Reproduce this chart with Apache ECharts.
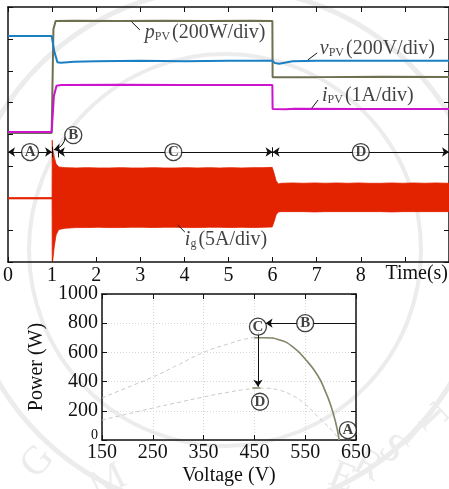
<!DOCTYPE html>
<html>
<head>
<meta charset="utf-8">
<script src="https://cdn.jsdelivr.net/npm/echarts@6/dist/echarts.min.js"></script>
<style>
  html, body { margin: 0; padding: 0; background: #fff; }
  #chart { width: 449px; height: 489px; }
</style>
</head>
<body>
<div id="chart"></div>
<script>
// ---- Time-domain traces (vertical unit: scope divisions) ----
const timeTicks = [0, 1, 2, 3, 4, 5, 6, 7, 8];

const pPvTime  = [0, 0.99, 1.03, 1.08, 1.5, 2.5, 3.5, 4.5, 5.5, 5.995, 6.0, 7.0, 8.5, 10];
const pPvDiv   = [4.05, 4.05, 7.3, 7.56, 7.57, 7.56, 7.57, 7.56, 7.57, 7.56, 5.80, 5.80, 5.81, 5.80];

const vPvTime  = [0, 0.99, 1.05, 1.12, 1.2, 1.5, 2, 3, 4, 5, 6, 6.05, 6.15, 6.3, 6.45, 7, 8.5, 10];
const vPvDiv   = [7.09, 7.09, 6.6, 6.27, 6.25, 6.28, 6.30, 6.31, 6.30, 6.31, 6.31, 6.24, 6.22, 6.26, 6.30, 6.31, 6.31, 6.31];

const iPvTime  = [0, 0.99, 1.04, 1.1, 1.2, 2.5, 4, 5.995, 6.0, 6.3, 6.5, 8, 10];
const iPvDiv   = [4.08, 4.08, 5.2, 5.53, 5.55, 5.56, 5.55, 5.55, 4.80, 4.79, 4.81, 4.80, 4.80];

// grid current envelope (upper / lower edge of the 50 Hz band)
const igTime  = [0, 0.999, 1.003, 1.01, 1.02, 1.05, 1.09, 1.15, 1.3, 1.55, 1.8, 2.05, 2.3, 2.55, 2.8, 3.05, 3.3, 3.55, 3.8, 4.05, 4.3, 4.55, 4.8, 5.05, 5.3, 5.55, 5.8, 5.99, 6.03, 6.08, 6.13, 6.2, 6.45, 6.7, 6.95, 7.2, 7.45, 7.7, 7.95, 8.2, 8.45, 8.7, 8.95, 9.2, 9.45, 9.7, 10];
const igUpper = [2.02, 2.02, 3.82, 3.65, 3.5, 3.28, 3.08, 2.98, 2.96, 2.95, 2.96, 2.95, 2.95, 2.96, 2.95, 2.95, 2.96, 2.95, 2.95, 2.96, 2.95, 2.96, 2.95, 2.96, 2.95, 2.96, 2.96, 2.97, 2.8, 2.55, 2.45, 2.47, 2.48, 2.47, 2.48, 2.47, 2.48, 2.47, 2.48, 2.47, 2.47, 2.48, 2.47, 2.48, 2.47, 2.48, 2.47];
const igLower = [1.98, 1.98, 0.05, 0.02, 0.12, 0.5, 0.85, 1.02, 1.06, 1.08, 1.08, 1.09, 1.08, 1.08, 1.09, 1.09, 1.08, 1.09, 1.09, 1.08, 1.08, 1.09, 1.09, 1.08, 1.09, 1.08, 1.09, 1.10, 1.25, 1.48, 1.57, 1.58, 1.58, 1.58, 1.57, 1.58, 1.58, 1.58, 1.58, 1.58, 1.58, 1.57, 1.58, 1.58, 1.58, 1.58, 1.58];

// ---- P-V characteristics ----
const pvVoltage = [150, 200, 250, 300, 350, 400, 430, 450, 470, 500, 525, 550, 575, 590, 600, 610, 617];
const powerHigh = [288, 360, 431, 515, 600, 660, 690, 700, 700, 685, 640, 555, 440, 330, 240, 120, 0];
const powerLow  = [137, 178, 219, 257, 295, 328, 345, 352, 355, 340, 305, 245, 160, 110, 75, 35, 0];
const mppVoltage = 447;           // operating point on the strong-light curve
const holdVoltage = [446, 462];   // short operating segment after the drop
const holdPower = [356, 356];

const SERIF = "'Liberation Serif', 'DejaVu Serif', serif";
const BLACK = '#111';
const FAINT = '#ececec';

function pairs(xs, ys) { return xs.map((x, i) => [x, ys[i]]); }

const highDashed = pairs(pvVoltage, powerHigh);
const highSolid = pairs(pvVoltage, powerHigh).filter(p => p[0] >= mppVoltage);
const lowDashed = pairs(pvVoltage, powerLow);

const circleSeries = (gi, data) => ({
  type: 'scatter',
  xAxisIndex: gi === 0 ? 0 : 2,
  yAxisIndex: gi === 0 ? 0 : 2,
  symbol: 'circle',
  symbolSize: 17,
  itemStyle: { color: '#fff', borderColor: BLACK, borderWidth: 1.3 },
  label: {
    show: true, position: 'inside', color: BLACK,
    fontFamily: SERIF, fontWeight: 'bold', fontSize: 15,
    formatter: p => p.data.name
  },
  z: 20,
  data: data.map(d => ({ name: d[0], value: d[1] }))
});

const arrowLines = (gi, coordsList, symbols, extra) => Object.assign({
  type: 'lines',
  coordinateSystem: 'cartesian2d',
  xAxisIndex: gi === 0 ? 0 : 2,
  yAxisIndex: gi === 0 ? 0 : 2,
  symbol: symbols,
  symbolSize: 7,
  lineStyle: { color: BLACK, width: 1, opacity: 1 },
  z: 15,
  silent: true,
  data: coordsList.map(c => ({ coords: c }))
}, extra || {});

const traceLabel = (main, sub, rest, pos) => ({
  type: 'scatter', xAxisIndex: 0, yAxisIndex: 0,
  symbolSize: 0, silent: true, z: 18,
  label: {
    show: true, position: 'right', distance: 0,
    formatter: '{m|' + main + '}{s|' + sub + '}{r|' + rest + '}',
    rich: {
      m: { fontFamily: SERIF, fontStyle: 'italic', fontSize: 20, color: BLACK },
      s: { fontFamily: SERIF, fontSize: 12, color: BLACK, verticalAlign: 'bottom', padding: [8, 2, 0, 0] },
      r: { fontFamily: SERIF, fontSize: 20, color: BLACK }
    }
  },
  data: [pos]
});

const frameAxis = (extra) => Object.assign({
  axisLine: { show: true, onZero: false, lineStyle: { color: BLACK, width: 1.5 } },
  axisTick: { show: true, inside: true, length: 5, lineStyle: { color: BLACK, width: 1 } },
  axisLabel: { show: false },
  splitLine: { show: false }
}, extra);

// faint seal watermark behind the figure
const sealLetters = [
  ['G', 38, 462, 0.85], ['M', 108, 482, 0.45],
  ['E', 342, 478, -0.38], ['R', 368, 466, -0.5], ['S', 392, 450, -0.62],
  ['I', 412, 436, -0.72], ['T', 430, 420, -0.82]
];
const watermark = [
  { type: 'circle', z: -10, silent: true, shape: { cx: 225, cy: 250, r: 262 }, style: { fill: 'none', stroke: FAINT, lineWidth: 5 } },
  { type: 'circle', z: -10, silent: true, shape: { cx: 225, cy: 250, r: 196 }, style: { fill: 'none', stroke: FAINT, lineWidth: 4 } }
].concat(sealLetters.map(l => ({
  type: 'text', z: -9, silent: true, x: l[1], y: l[2], rotation: l[3],
  style: { text: l[0], font: '40px ' + SERIF, fill: FAINT, align: 'center', verticalAlign: 'middle' }
})));

const chart = echarts.init(document.getElementById('chart'), null, { renderer: 'canvas' });

const option = {
  animation: false,
  backgroundColor: '#fff',
  grid: [
    { left: 8, top: 7, right: 0, bottom: 227 },
    { left: 102, top: 294, right: 93, bottom: 49 }
  ],
  xAxis: [
    frameAxis({
      gridIndex: 0, type: 'value', min: 0, max: 10, interval: 1, position: 'bottom',
      axisLabel: {
        show: true, color: BLACK, fontFamily: SERIF, fontSize: 20, margin: 4,
        showMaxLabel: false,
        formatter: v => (timeTicks.indexOf(v) >= 0 ? String(v) : '')
      }
    }),
    frameAxis({ gridIndex: 0, type: 'value', min: 0, max: 10, interval: 1, position: 'top' }),
    frameAxis({
      gridIndex: 1, type: 'value', min: 150, max: 650, interval: 100, position: 'bottom',
      name: 'Voltage (V)', nameLocation: 'middle', nameGap: 26,
      nameTextStyle: { color: BLACK, fontFamily: SERIF, fontSize: 20 },
      axisLabel: { show: true, color: BLACK, fontFamily: SERIF, fontSize: 20, margin: 3 },
      splitLine: { show: true, lineStyle: { color: '#d6d6d6', type: [1, 2], width: 1 } }
    }),
    frameAxis({ gridIndex: 1, type: 'value', min: 150, max: 650, interval: 100, position: 'top' })
  ],
  yAxis: [
    frameAxis({ gridIndex: 0, type: 'value', min: 0, max: 8, interval: 1, position: 'left' }),
    frameAxis({ gridIndex: 0, type: 'value', min: 0, max: 8, interval: 1, position: 'right' }),
    frameAxis({
      gridIndex: 1, type: 'value', min: 0, max: 1000, interval: 200, position: 'left',
      name: 'Power (W)', nameLocation: 'middle', nameGap: 50,
      nameTextStyle: { color: BLACK, fontFamily: SERIF, fontSize: 20 },
      axisLabel: {
        show: true, color: BLACK, fontFamily: SERIF, fontSize: 20, margin: 4,
        formatter: v => (v === 0 ? '{z|0}' : String(v)),
        rich: { z: { fontFamily: SERIF, fontSize: 14, color: BLACK, padding: [0, 0, 10, 0] } }
      },
      splitLine: { show: true, lineStyle: { color: '#d6d6d6', type: [1, 2], width: 1 } }
    }),
    frameAxis({ gridIndex: 1, type: 'value', min: 0, max: 1000, interval: 200, position: 'right' })
  ],
  graphic: watermark.concat([
    {
      type: 'text', right: 1, top: 264, z: 30,
      style: { text: 'Time(s)', font: '20px ' + SERIF, fill: BLACK }
    }
  ]),
  series: [
    // grid current band
    {
      type: 'custom', xAxisIndex: 0, yAxisIndex: 0, clip: true, z: 3,
      data: [0],
      renderItem: (params, api) => {
        const pts = [];
        for (let i = 0; i < igTime.length; i++) pts.push(api.coord([igTime[i], igUpper[i]]));
        for (let i = igTime.length - 1; i >= 0; i--) pts.push(api.coord([igTime[i], igLower[i]]));
        return { type: 'polygon', shape: { points: pts }, style: { fill: '#e32200', stroke: '#e32200', lineWidth: 0.8 } };
      }
    },
    {
      type: 'line', xAxisIndex: 0, yAxisIndex: 0, data: pairs(pPvTime, pPvDiv),
      symbol: 'none', lineStyle: { color: '#6f6f52', width: 2 }, z: 4
    },
    {
      type: 'line', xAxisIndex: 0, yAxisIndex: 0, data: pairs(iPvTime, iPvDiv),
      symbol: 'none', lineStyle: { color: '#cc14cc', width: 2 }, z: 5
    },
    {
      type: 'line', xAxisIndex: 0, yAxisIndex: 0, data: pairs(vPvTime, vPvDiv),
      symbol: 'none', lineStyle: { color: '#1b80c3', width: 2 }, z: 6
    },

    // stage arrows in the time plot
    arrowLines(0, [[[0, 3.45], [1.0, 3.45]], [[1.13, 3.45], [6.0, 3.45]], [[6.0, 3.45], [10, 3.45]]], ['arrow', 'arrow']),
    arrowLines(0, [[[1.0, 3.28], [1.0, 3.62]], [[1.13, 3.28], [1.13, 3.62]], [[6.0, 3.3], [6.0, 3.6]]], ['none', 'none']),
    arrowLines(0, [[[1.3, 3.93], [1.04, 3.52]]], ['none', 'arrow'], { lineStyle: { color: BLACK, width: 1, curveness: 0.35, opacity: 1 } }),
    circleSeries(0, [['A', [0.5, 3.45]], ['B', [1.48, 3.98]], ['C', [3.75, 3.45]], ['D', [8.0, 3.45]]]),

    // leader lines to trace labels
    arrowLines(0, [
      [[2.80, 7.54], [2.99, 7.28]],
      [[6.80, 6.34], [7.01, 6.56]],
      [[6.89, 4.83], [7.03, 5.08]],
      [[3.85, 1.16], [4.01, 0.94]]
    ], ['none', 'none']),
    traceLabel('p', 'PV', '(200W/div)', [3.1, 7.18]),
    traceLabel('v', 'PV', '(200V/div)', [7.07, 6.68]),
    traceLabel('i', 'PV', '(1A/div)', [7.12, 5.21]),
    traceLabel('i', 'g', '(5A/div)', [4.01, 0.69]),

    // P-V curves
    {
      type: 'line', xAxisIndex: 2, yAxisIndex: 2, data: highDashed, smooth: true,
      symbol: 'none', lineStyle: { color: '#c8c8c8', width: 1, type: [4, 3] }, z: 3
    },
    {
      type: 'line', xAxisIndex: 2, yAxisIndex: 2, data: lowDashed, smooth: true,
      symbol: 'none', lineStyle: { color: '#c8c8c8', width: 1, type: [4, 3] }, z: 3
    },
    {
      type: 'line', xAxisIndex: 2, yAxisIndex: 2, data: highSolid, smooth: true,
      symbol: 'none', lineStyle: { color: '#85856a', width: 1.6 }, z: 4
    },
    {
      type: 'line', xAxisIndex: 2, yAxisIndex: 2, data: pairs(holdVoltage, holdPower),
      symbol: 'none', lineStyle: { color: '#85856a', width: 1.6 }, z: 4
    },
    arrowLines(1, [], ['none', 'arrow'], {
      data: [
        { coords: [[650, 800], [563, 800]], symbol: ['none', 'none'] },
        { coords: [[537, 800], [472, 800]] }
      ]
    }),
    arrowLines(1, [[[457, 740], [457, 365]]], ['none', 'arrow']),
    circleSeries(1, [['C', [457, 776]], ['B', [550, 800]], ['D', [461, 262]], ['A', [634, 68]]])
  ]
};

chart.setOption(option);
</script>
</body>
</html>
